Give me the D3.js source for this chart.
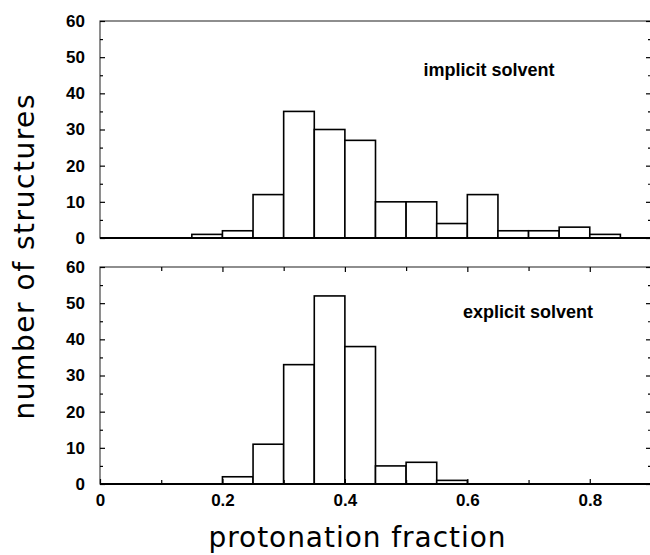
<!DOCTYPE html>
<meta charset="utf-8" />
<script src="https://d3js.org/d3.v7.min.js"></script>
<body style="margin:0;background:#fff">
<svg id="chart" width="650" height="555" style="display:block"></svg>
<script>
/* DATA -------------------------------------------------------------------- */
const binWidth = 0.05;
const binStarts = [0.15,0.20,0.25,0.30,0.35,0.40,0.45,0.50,0.55,0.60,0.65,0.70,0.75,0.80];
const implicitCounts = [1,2,12,35,30,27,10,10,4,12,2,2,3,1];
const explicitCounts = [0,2,11,33,52,38,5,6,1,0,0,0,0,0];
const panelLabels = ["implicit solvent","explicit solvent"];
const xTicksMajor = [0,0.2,0.4,0.6,0.8];
const yTicksMajor = [0,10,20,30,40,50,60];

/* CONFIG ------------------------------------------------------------------ */
const svg = d3.select("#chart");
const x = d3.scaleLinear().domain([0,0.9]).range([100,651]);
const panels = [
  {counts:implicitCounts, label:panelLabels[0], y:d3.scaleLinear().domain([0,60]).range([238,21]), lx:489, ly:76},
  {counts:explicitCounts, label:panelLabels[1], y:d3.scaleLinear().domain([0,60]).range([484,267]), lx:528, ly:318}
];
const tickFont = "bold 17px 'Liberation Sans', Arial, sans-serif";

panels.forEach((p,pi)=>{
  const g = svg.append("g");
  const y = p.y;

  /* frame */
  g.append("rect")
    .attr("x",x(0)).attr("y",y(60))
    .attr("width",x(0.9)-x(0)).attr("height",y(0)-y(60))
    .attr("fill","none").attr("stroke","#444").attr("stroke-width",1.2);

  /* bars */
  g.selectAll("rect.bar")
    .data(binStarts.map((s,i)=>({s,v:p.counts[i]})).filter(d=>d.v>0))
    .join("rect").attr("class","bar")
      .attr("x",d=>x(d.s)).attr("width",d=>x(d.s+binWidth)-x(d.s))
      .attr("y",d=>y(d.v)).attr("height",d=>y(0)-y(d.v))
      .attr("fill","#fff").attr("stroke","#000").attr("stroke-width",1.6);

  /* baseline */
  g.append("line")
    .attr("x1",x(0)).attr("x2",x(0.9)).attr("y1",y(0)).attr("y2",y(0))
    .attr("stroke","#000").attr("stroke-width",2);

  /* left axis: major with labels, minor ticks */
  g.append("g").attr("transform",`translate(${x(0)},0)`)
    .call(d3.axisLeft(y).tickValues(yTicksMajor).tickSize(-5).tickPadding(15).tickFormat(d3.format("d")));
  g.append("g").attr("transform",`translate(${x(0)},0)`)
    .call(d3.axisLeft(y).tickValues(d3.range(5,60,10)).tickSize(-3).tickFormat(""));

  /* right axis */
  g.append("g").attr("transform",`translate(${x(0.9)},0)`)
    .call(d3.axisRight(y).tickValues(yTicksMajor).tickSize(-5).tickFormat(""));
  g.append("g").attr("transform",`translate(${x(0.9)},0)`)
    .call(d3.axisRight(y).tickValues(d3.range(5,60,10)).tickSize(-3).tickFormat(""));

  /* x ticks on bottom panel */
  if(pi===1){
    g.append("g").attr("transform",`translate(0,${y(0)})`)
      .call(d3.axisBottom(x).tickValues(xTicksMajor).tickSize(-5).tickPadding(10).tickFormat(d3.format("")));
    g.append("g").attr("transform",`translate(0,${y(0)})`)
      .call(d3.axisBottom(x).tickValues([0.1,0.3,0.5,0.7]).tickSize(-4).tickFormat(""));
    g.append("g").attr("transform",`translate(0,${y(60)})`)
      .call(d3.axisTop(x).tickValues(xTicksMajor.slice(1)).tickSize(-5).tickFormat(""));
    g.append("g").attr("transform",`translate(0,${y(60)})`)
      .call(d3.axisTop(x).tickValues([0.1,0.3,0.5,0.7]).tickSize(-4).tickFormat(""));
  }

  /* panel label */
  g.append("text").attr("x",p.lx).attr("y",p.ly).attr("text-anchor","middle")
    .style("font","bold 18px 'Liberation Sans', Arial, sans-serif").text(p.label);
});

/* axis styling */
svg.selectAll(".domain").remove();
svg.selectAll(".tick line").attr("stroke","#000").attr("stroke-width",1.2);
svg.selectAll(".tick text").style("font",tickFont).attr("fill","#000");

/* axis titles */
svg.append("text").attr("x",357).attr("y",547).attr("text-anchor","middle")
  .attr("textLength",297).attr("lengthAdjust","spacing")
  .style("font","28px 'DejaVu Sans', sans-serif").text("protonation fraction");
svg.append("text").attr("transform","translate(34,257) rotate(-90)").attr("text-anchor","middle")
  .attr("textLength",325).attr("lengthAdjust","spacing")
  .style("font","28px 'DejaVu Sans', sans-serif").text("number of structures");
</script>
</body>
